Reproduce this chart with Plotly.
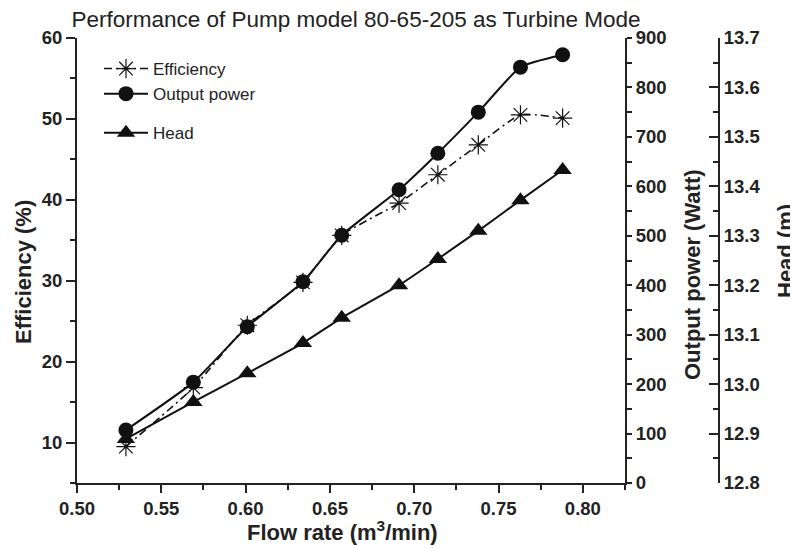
import plotly.graph_objects as go

# ---- data ----
flow = [0.529, 0.569, 0.601, 0.634, 0.657, 0.691, 0.714, 0.738, 0.763, 0.788]
efficiency = [9.5, 16.8, 24.5, 29.8, 35.6, 39.6, 43.1, 46.8, 50.5, 50.1]
power = [107, 204, 316, 407, 501, 593, 667, 750, 841, 866]
head = [12.889, 12.964, 13.022, 13.083, 13.134, 13.200, 13.253, 13.310, 13.372, 13.433]

x_ticks = [0.50, 0.55, 0.60, 0.65, 0.70, 0.75, 0.80]
eff_ticks = [10, 20, 30, 40, 50, 60]
power_ticks = [0, 100, 200, 300, 400, 500, 600, 700, 800, 900]
head_ticks = [12.8, 12.9, 13.0, 13.1, 13.2, 13.3, 13.4, 13.5, 13.6, 13.7]
top_ticks = [0.500, 0.525, 0.550, 0.575, 0.600, 0.625, 0.650, 0.675, 0.700, 0.725, 0.750, 0.775, 0.800]

FONT = "Liberation Sans, Arial, sans-serif"
OFF = 8  # page body margin
W, H = 798 - OFF, 548 - OFF
L, T = 77 - OFF, 38 - OFF
PLOT_W, PLOT_H = 548, 445
R = W - L - 689
B = H - T - PLOT_H
pw = W - L - R
ph = PLOT_H
dom_end = PLOT_W / pw
head_pos = (719 - OFF - L) / pw


def px(xr):
    return (xr - OFF - L) / pw


def py(yr):
    return (T + ph - (yr - OFF)) / ph


fig = go.Figure()

fig.add_trace(go.Scatter(
    x=flow, y=efficiency, name="Efficiency", yaxis="y", legendgroup="a",
    mode="lines+markers",
    line=dict(color="#111", width=1.6, dash="8px,4px,2px,4px", shape="spline", smoothing=0.5),
    marker=dict(symbol="asterisk-open", size=16, line=dict(color="#333", width=1.2)),
))
fig.add_trace(go.Scatter(
    x=flow, y=power, name="Output power", yaxis="y2", legendgroup="a",
    mode="lines+markers",
    line=dict(color="#111", width=2, shape="spline", smoothing=0.5),
    marker=dict(symbol="circle", size=15, color="#111"),
))
fig.add_trace(go.Scatter(
    x=flow, y=head, name="Head", yaxis="y3", legendgroup="b",
    mode="lines+markers",
    line=dict(color="#111", width=2, shape="spline", smoothing=0.3),
    marker=dict(symbol="triangle-up", size=16, color="#111"),
))

tickfont = dict(family=FONT, size=18.5, color="#222", weight="bold")

fig.update_layout(
    width=W, height=H,
    margin=dict(l=L, r=R, t=T, b=B, pad=0, autoexpand=False),
    paper_bgcolor="white", plot_bgcolor="white",
    showlegend=True,
    legend=dict(x=px(99), y=py(51), xanchor="left", yanchor="top",
                font=dict(family=FONT, size=17, color="#222"),
                bgcolor="rgba(0,0,0,0)", tracegroupgap=14, itemwidth=44),
    title=dict(text="Performance of Pump model 80-65-205 as Turbine Mode",
               x=(356 - OFF) / W, xref="container", xanchor="center",
               y=1.0 - 3 / H, yref="container", yanchor="top", pad=dict(t=0, b=0),
               font=dict(family=FONT, size=22.5, color="#222")),
    xaxis=dict(domain=[0, dom_end], range=[0.5, 0.825], tickvals=x_ticks, tickformat=".2f",
               ticks="outside", ticklen=8, tickwidth=2, tickcolor="#222",
               minor=dict(dtick=0.025, tick0=0.5, ticks="outside", ticklen=5, tickwidth=2, tickcolor="#222"),
               showline=True, linewidth=2, linecolor="#222", showgrid=False, zeroline=False,
               tickfont=tickfont, anchor="y", automargin=False),
    xaxis2=dict(overlaying="x", side="top", anchor="y", range=[0.5, 0.825], tickvals=top_ticks,
                ticks="inside", ticklen=5, tickwidth=1.5, tickcolor="#222",
                showticklabels=False, showline=True, linewidth=2, linecolor="#222",
                showgrid=False, zeroline=False, automargin=False),
    yaxis=dict(range=[5, 60], tickvals=eff_ticks, ticks="outside", ticklen=9, tickwidth=2, tickcolor="#222",
               minor=dict(dtick=5, tick0=5, ticks="outside", ticklen=5, tickwidth=2, tickcolor="#222"),
               showline=True, linewidth=2, linecolor="#222", showgrid=False, zeroline=False,
               tickfont=tickfont, anchor="x", automargin=False),
    yaxis2=dict(overlaying="y", side="right", anchor="x", range=[0, 900], tickvals=power_ticks,
                ticks="outside", ticklen=5, tickwidth=2, tickcolor="#222",
                minor=dict(dtick=50, tick0=0, ticks="outside", ticklen=5, tickwidth=2, tickcolor="#222"),
                showline=True, linewidth=2, linecolor="#222", showgrid=False, zeroline=False,
                tickfont=tickfont, automargin=False),
    yaxis4=dict(overlaying="y", side="right", anchor="x", range=[0, 900], tickvals=power_ticks,
                ticks="inside", ticklen=8, tickwidth=2, tickcolor="#222",
                minor=dict(dtick=50, tick0=0, ticks="inside", ticklen=3, tickwidth=2, tickcolor="#222"),
                showticklabels=False, showline=False, showgrid=False, zeroline=False, automargin=False),
    yaxis3=dict(overlaying="y", side="right", anchor="free", position=head_pos,
                range=[12.8, 13.7], tickvals=head_ticks, tickformat=".1f",
                ticks="inside", ticklen=9, tickwidth=2, tickcolor="#222",
                minor=dict(dtick=0.05, tick0=12.8, ticks="inside", ticklen=5, tickwidth=2, tickcolor="#222"),
                showline=True, linewidth=2, linecolor="#222", showgrid=False, zeroline=False,
                tickfont=tickfont, automargin=False),
)

title_font = dict(family=FONT, size=22, color="#222", weight="bold")
fig.add_annotation(text="Flow rate (m<sup>3</sup>/min)", xref="paper", yref="paper",
                   x=px(342), y=py(531),
                   xanchor="center", yanchor="middle", showarrow=False, font=title_font)
fig.add_annotation(text="Efficiency (%)", xref="paper", yref="paper",
                   x=px(23), y=py(272), textangle=-90,
                   xanchor="center", yanchor="middle", showarrow=False, font=title_font)
fig.add_annotation(text="Output power (Watt)", xref="paper", yref="paper",
                   x=px(692), y=py(275), textangle=-90,
                   xanchor="center", yanchor="middle", showarrow=False, font=title_font)
fig.add_annotation(text="Head (m)", xref="paper", yref="paper",
                   x=px(785), y=py(251), textangle=-90,
                   xanchor="center", yanchor="middle", showarrow=False, font=title_font)

fig.write_html("out.html")
